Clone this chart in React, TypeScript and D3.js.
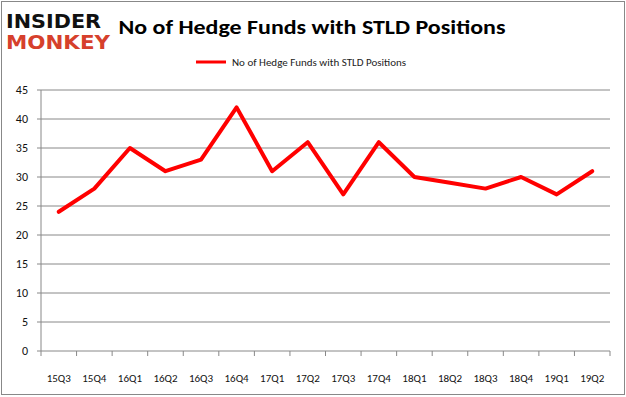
import React from 'react'
import * as d3 from 'd3'

const quarters = ['15Q3', '15Q4', '16Q1', '16Q2', '16Q3', '16Q4', '17Q1', '17Q2', '17Q3', '17Q4', '18Q1', '18Q2', '18Q3', '18Q4', '19Q1', '19Q2']
const funds = [24, 28, 35, 31, 33, 42, 31, 36, 27, 36, 30, 29, 28, 30, 27, 31]
const yTicks = [0, 5, 10, 15, 20, 25, 30, 35, 40, 45]
const seriesName = 'No of Hedge Funds with STLD Positions'

const W = 626
const H = 397
const plot = { left: 41, right: 610, top: 90, bottom: 351 }
const font = "Calibri, Carlito, 'Open Sans', 'Liberation Sans', sans-serif"

const App = () => {
  const x = d3.scaleBand().domain(quarters).range([plot.left, plot.right])
  const y = d3.scaleLinear().domain([0, 45]).range([plot.bottom, plot.top])

  const line = d3.line<number>()
    .x((d, i) => x(quarters[i])! + x.bandwidth() / 2)
    .y(d => y(d))

  const edges = quarters.map(q => x(q)!).concat([plot.right])

  return (
    <div style={{ position: 'absolute', left: 0, top: 0 }}>
      <svg width={W} height={H} style={{ display: 'block', fontFamily: font }}>
        <rect x={0} y={0} width={W} height={H} fill="white" />
        <rect x={1.5} y={1.5} width={W - 3} height={H - 4} fill="none" stroke="#888" strokeWidth={1} />

        {/* logo */}
        <text x={6} y={28} fontFamily="'DejaVu Sans', sans-serif" fontWeight="bold" fontSize={19} fill="#111"
          textLength={95} lengthAdjust="spacingAndGlyphs">INSIDER</text>
        <text x={6} y={49} fontFamily="'DejaVu Sans', sans-serif" fontWeight="bold" fontSize={19} fill="#d6402c"
          textLength={104} lengthAdjust="spacingAndGlyphs">MONKEY</text>

        <text x={312} y={34} textAnchor="middle" fontSize={21} fontWeight="bold" fill="#000"
          textLength={387} lengthAdjust="spacingAndGlyphs">{seriesName}</text>

        {/* legend */}
        <line x1={196} x2={226} y1={62} y2={62} stroke="#ff0000" strokeWidth={3} />
        <text x={232} y={66} fontSize={11} fill="#222">{seriesName}</text>

        {/* grid */}
        {yTicks.map(t => (
          <g key={t}>
            <line x1={plot.left - 4} x2={plot.right} y1={y(t)} y2={y(t)} stroke="#888" strokeWidth={1} />
            <text x={28} y={y(t) + 4} textAnchor="end" fontSize={12} fill="#111">{t}</text>
          </g>
        ))}
        <line x1={plot.left} x2={plot.left} y1={plot.top} y2={plot.bottom} stroke="#888" strokeWidth={1} />
        {edges.map((e, i) => (
          <line key={i} x1={e} x2={e} y1={plot.bottom} y2={plot.bottom + 5} stroke="#888" strokeWidth={1} />
        ))}
        {quarters.map(q => (
          <text key={q} x={x(q)! + x.bandwidth() / 2} y={382} textAnchor="middle" fontSize={11} fill="#111">{q}</text>
        ))}

        <path d={line(funds) ?? ''} fill="none" stroke="#ff0000" strokeWidth={4} strokeLinejoin="round" strokeLinecap="round" />
      </svg>
    </div>
  )
}

export default App
